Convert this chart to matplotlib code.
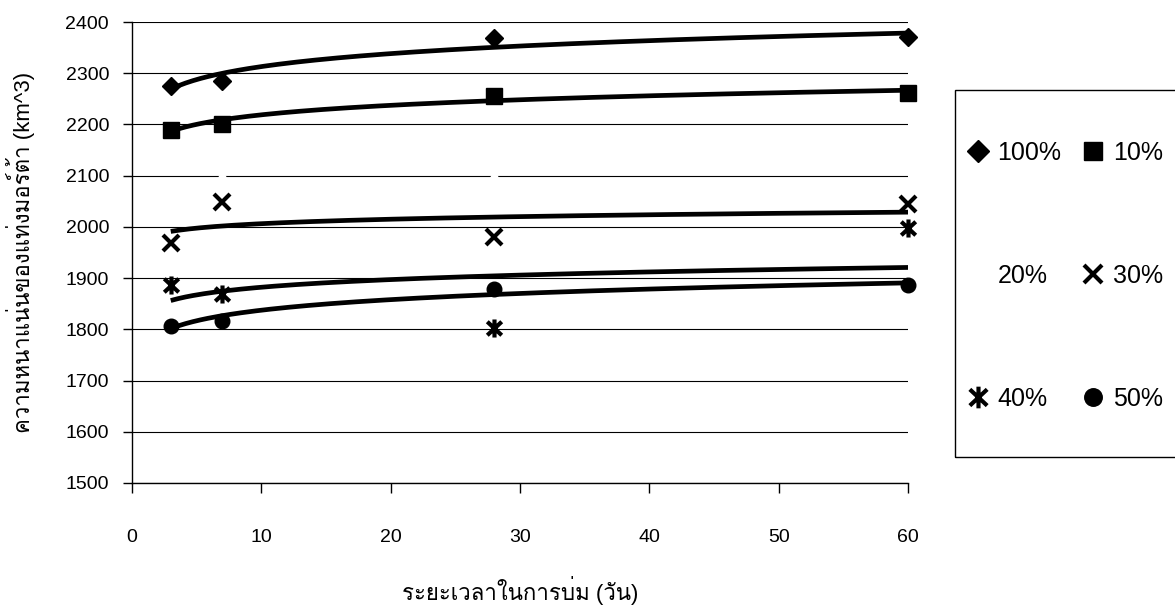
import numpy as np
import matplotlib
matplotlib.use("Agg")
import matplotlib.pyplot as plt
from matplotlib.path import Path
from matplotlib.patches import Rectangle

plt.rcParams['font.family'] = ['Liberation Sans', 'Loma', 'DejaVu Sans']

# curing time (days)
days = np.array([3, 7, 28, 60])

# density, one list per mix
d100 = [2276, 2284, 2368, 2370]
d10 = [2190, 2201, 2256, 2262]
d20 = [np.nan, 2100, 2100, np.nan]   # drawn white in the original, not visible
d30 = [1968, 2048, 1980, 2045]
d40 = [1886, 1869, 1803, 1998]
d50 = [1806, 1817, 1878, 1886]

labels = ['100%', '10%', '20%', '30%', '40%', '50%']

xlabel = 'ระยะเวลาในการบ่ม (วัน)'
ylabel = 'ความหนาแน่นของแท่งมอร์ต้า (km^3)'

# excel-like star marker: an x with a vertical bar through it
star = Path([(-0.8, -0.75), (0.8, 0.75), (-0.8, 0.75), (0.8, -0.75), (0, -1), (0, 1)],
            [Path.MOVETO, Path.LINETO, Path.MOVETO, Path.LINETO, Path.MOVETO, Path.LINETO])

fig = plt.figure(figsize=(11.75, 6.1), dpi=100)
ax = fig.add_axes([0.1123, 0.2082, 0.6605, 0.7557])

series = [d100, d10, d20, d30, d40, d50]
styles = [
    dict(marker='D', ms=9, mfc='black', mec='black'),
    dict(marker='s', ms=11, mfc='black', mec='black'),
    dict(marker='^', ms=9, mfc='white', mec='white'),
    dict(marker='x', ms=11, mec='black', mew=3),
    dict(marker=star, ms=13, mec='black', mew=3),
    dict(marker='o', ms=10.5, mfc='black', mec='black'),
]
handles = {}
for lab, vals, st in zip(labels, series, styles):
    h, = ax.plot(days, vals, linestyle='none', zorder=4, clip_on=False, **st)
    handles[lab] = h

# logarithmic trend lines (as in the spreadsheet), 20% has none visible
xx = np.linspace(days[0], days[-1], 200)
for vals in [d100, d10, d30, d40, d50]:
    a, b = np.polyfit(np.log(days), vals, 1)
    ax.plot(xx, a * np.log(xx) + b, color='black', lw=3.4, zorder=3, solid_capstyle='butt')

ax.set_xlim(0, 60)
ax.set_ylim(1500, 2400)
ax.set_xticks(range(0, 61, 10))
ax.set_yticks(range(1500, 2401, 100))
ax.yaxis.grid(True, color='black', lw=0.8)
ax.set_axisbelow(True)
for s in ['top', 'right']:
    ax.spines[s].set_visible(False)
for s in ['left', 'bottom']:
    ax.spines[s].set_linewidth(1.0)
ax.tick_params(axis='y', direction='out', length=6.5, width=1, pad=10, labelsize=14)
ax.tick_params(axis='x', direction='out', length=7, width=1, pad=26, labelsize=14)

ax.set_xlabel(xlabel, fontsize=16, labelpad=22)
ax.set_ylabel(ylabel, fontsize=16)
ax.yaxis.set_label_coords(-0.125, 0.5)

# legend, row by row like the original, with its own box running off the page
order = ['100%', '20%', '40%', '10%', '30%', '50%']
leg = fig.legend([handles[k] for k in order], order, ncol=2, frameon=False,
                 loc='center left', bbox_to_anchor=(965 / 1175, 1 - 276 / 610),
                 fontsize=18, markerscale=1.2, handlelength=1.0, handletextpad=0.3,
                 columnspacing=0.75, labelspacing=3.95, borderpad=0, borderaxespad=0)
fig.add_artist(Rectangle((955 / 1175, 1 - 457 / 610), 0.3, 367 / 610,
                         transform=fig.transFigure, fill=False, lw=1, ec='black'))

fig.savefig('out.png', dpi=100)
